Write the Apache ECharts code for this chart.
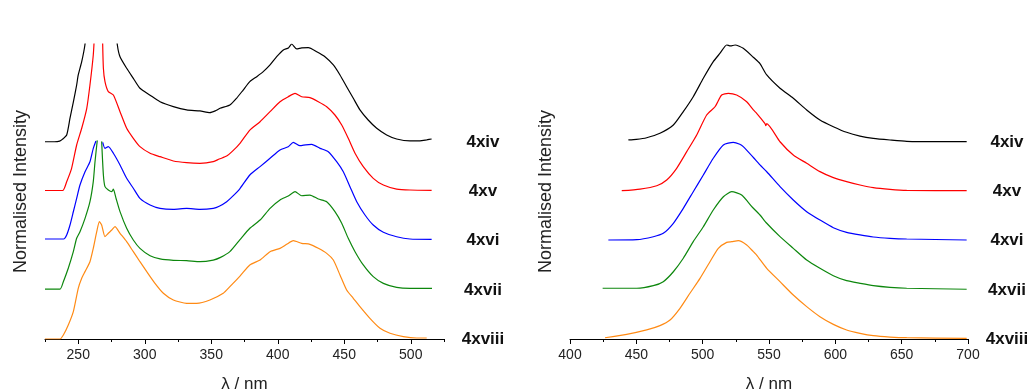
<!DOCTYPE html>
<html>
<head>
<meta charset="utf-8">
<title>Normalised excitation and emission spectra</title>
<script src="https://cdn.jsdelivr.net/npm/echarts@6/dist/echarts.min.js"></script>
<style>
  html, body { margin: 0; padding: 0; background: #ffffff; }
  #chart { width: 1031px; height: 390px; }
</style>
</head>
<body>
<div id="chart"></div>
<script>
// Compound labels, drawn from top to bottom
const compounds = ['4xiv', '4xv', '4xvi', '4xvii', '4xviii'];
// Vertical offset of each trace (normalised units)
const offsets = [2.0, 1.5, 1.0, 0.5, 0.0];
const colors = ['#000000', '#ff0000', '#0000ff', '#0d870d', '#ff8a14'];

// Axis tick labels
const exTicks = [250, 300, 350, 400, 450, 500];
const exMinorTicks = [225, 275, 325, 375, 425, 475, 525];
const emTicks = [400, 450, 500, 550, 600, 650, 700];
const emMinorTicks = [425, 475, 525, 575, 625, 675];

// Excitation spectra [wavelength nm, normalised intensity]; '-' marks removed scatter points
const exc4xiv = [[225,0.006],[232,0.006],[236,0.012],[238,0.03],[241.3,0.075],[243.8,0.245],[246.3,0.41],[248.8,0.583],[250,0.685],[252.6,0.82],[255,0.99],[256.5,1.2],[258,'-'],[278,1.2],[279.4,0.99],[281.4,0.87],[286.4,0.753],[291.4,0.651],[296.4,0.55],[304,0.48],[311.5,0.413],[321.5,0.363],[331.5,0.33],[341.5,0.319],[349,0.302],[353,0.32],[356.6,0.346],[364,0.38],[369,0.448],[374,0.532],[379,0.617],[384.2,0.668],[389.1,0.719],[394.2,0.787],[399.2,0.871],[404.2,0.939],[408,0.96],[410.5,1.0],[414.2,0.95],[418,0.96],[423,0.963],[429.3,0.922],[435.5,0.871],[441.8,0.787],[446.8,0.685],[451.8,0.566],[456.8,0.448],[461.8,0.33],[468,0.227],[474.4,0.143],[481.9,0.075],[489.4,0.034],[499.4,0.014],[506.9,0.014],[512,0.025],[515.7,0.034]];
const exc4xv = [[225,0.01],[238.3,0.01],[241.3,0.1],[245,0.236],[248.8,0.473],[252.6,0.643],[256.4,0.846],[258.8,1.083],[261.3,1.388],[262.2,1.6],[265,'-'],[268.2,1.6],[268.9,1.253],[270.1,1.117],[272.6,1.015],[276.4,0.981],[281.4,0.812],[286.4,0.643],[291.4,0.541],[296.4,0.456],[304,0.389],[311.5,0.354],[321.5,0.31],[331.5,0.293],[341.5,0.287],[351.5,0.303],[356,0.33],[361.6,0.36],[366,0.41],[371.6,0.49],[379,0.625],[386.7,0.71],[394.2,0.812],[401.7,0.913],[407.9,0.964],[413,0.998],[418,0.964],[424.2,0.954],[430.5,0.913],[436.8,0.862],[443,0.778],[448.1,0.676],[453,0.541],[458.1,0.389],[464.3,0.252],[471.8,0.134],[479.4,0.066],[489.4,0.025],[499.4,0.015],[515.7,0.012]];
const exc4xvi = [[225,0.017],[239,0.017],[241.3,0.058],[243.8,0.159],[246.3,0.294],[248.8,0.43],[251.3,0.566],[255.1,0.701],[258.8,0.803],[261.3,0.939],[263.3,1.014],[265.5,'-'],[268.4,1.0],[270.1,0.939],[272.6,0.956],[276.4,0.889],[281.4,0.77],[286.4,0.634],[291.4,0.533],[296.4,0.43],[304,0.363],[311.5,0.329],[321.5,0.319],[331.5,0.329],[341.5,0.319],[351.5,0.329],[356,0.35],[361.6,0.396],[366,0.45],[371.6,0.53],[379,0.668],[386.7,0.753],[394.2,0.838],[401.7,0.922],[407.9,0.956],[411.7,1.0],[416.7,0.966],[421,0.975],[425.5,0.98],[431.8,0.939],[438,0.905],[444.3,0.803],[449.3,0.701],[454.3,0.549],[459.4,0.396],[465.6,0.261],[471.8,0.159],[479.4,0.085],[489.4,0.04],[499.4,0.017],[515.7,0.014]];
const exc4xvii = [[225,0.008],[236.3,0.008],[238.8,0.083],[242.5,0.219],[246.3,0.388],[248.8,0.524],[251.3,0.591],[255.1,0.727],[258.8,0.896],[261.3,1.1],[262.6,1.303],[264.3,1.52],[266,'-'],[267.6,1.51],[268.9,1.168],[270.1,1.049],[272.6,1.015],[275.2,0.998],[276.4,1.025],[278.4,0.931],[281.4,0.795],[286.4,0.626],[291.4,0.507],[296.4,0.422],[304,0.347],[311.5,0.314],[321.5,0.3],[331.5,0.297],[341.5,0.286],[351.5,0.303],[357,0.33],[364,0.388],[371.6,0.51],[379,0.626],[386.7,0.71],[394.2,0.829],[401.7,0.914],[407.9,0.954],[413,0.998],[418,0.957],[424.2,0.964],[430.5,0.924],[436.8,0.896],[443,0.795],[448.1,0.677],[453,0.524],[458.1,0.388],[464.3,0.253],[471.8,0.134],[479.4,0.066],[489.4,0.025],[499.4,0.015],[516,0.015]];
const exc4xviii = [[225,0],[236.3,0],[238.8,0.04],[242.5,0.142],[246.3,0.278],[250,0.515],[252.6,0.617],[255.1,0.685],[258.8,0.786],[261.3,0.922],[263.9,1.091],[265.9,1.193],[267.6,1.159],[270.1,1.04],[272.6,1.075],[275.2,1.108],[277.6,1.142],[281.4,1.075],[286.4,0.99],[291.4,0.888],[296.4,0.786],[301.5,0.685],[307.7,0.566],[314,0.465],[321.5,0.397],[331.5,0.363],[339,0.363],[349,0.397],[359,0.465],[364,0.532],[371.6,0.64],[379,0.753],[386.7,0.803],[394.2,0.888],[401.7,0.922],[406.7,0.963],[411.7,1.0],[418,0.973],[424.2,0.963],[430.5,0.922],[436.8,0.871],[441.8,0.803],[446.8,0.651],[451.8,0.498],[456.8,0.414],[461.8,0.329],[469.3,0.21],[476.9,0.109],[484.4,0.058],[494.4,0.024],[504.4,0.01],[512,0.01]];

// Emission spectra [wavelength nm, normalised intensity]
const emi4xiv = [[444,0.024],[450,0.03],[457.8,0.047],[467.8,0.092],[477.9,0.176],[485.4,0.312],[492.9,0.464],[500.5,0.651],[508,0.82],[513.1,0.906],[518.1,0.99],[521,0.98],[524.4,0.99],[530.6,0.956],[538.2,0.865],[543.2,0.8],[548.3,0.685],[558.3,0.55],[568.3,0.448],[578.4,0.329],[588.4,0.227],[598.5,0.159],[608.5,0.102],[618.6,0.064],[628.6,0.041],[641.2,0.024],[653.8,0.01],[679,0.007],[699,0.007]];
const emi4xv = [[439,0.008],[452.8,0.025],[465.4,0.059],[472.9,0.117],[480.4,0.236],[488,0.405],[495.5,0.575],[503,0.778],[509.3,0.862],[514.3,0.981],[519.3,0.998],[525.6,0.981],[533.2,0.913],[538.2,0.829],[540.7,0.795],[547,0.69],[547.6,0.67],[548.3,0.69],[558.3,0.506],[568.3,0.371],[578.4,0.287],[588.4,0.202],[598.5,0.141],[608.5,0.1],[618.6,0.066],[628.6,0.039],[641.2,0.022],[653.8,0.012],[699,0.008]];
const emi4xvi = [[428.9,0.007],[450.3,0.01],[462.8,0.04],[470.3,0.075],[477.9,0.177],[485.4,0.329],[492.9,0.498],[500.5,0.668],[508,0.838],[515.6,0.973],[523.1,1.0],[528,0.98],[530.6,0.956],[538.2,0.846],[543.2,0.77],[548.3,0.701],[558.3,0.549],[568.3,0.414],[578.4,0.295],[588.4,0.21],[598.5,0.132],[608.5,0.085],[618.6,0.058],[628.6,0.037],[641.2,0.024],[653.8,0.017],[699,0.007]];
const emi4xvii = [[424.6,0.016],[450.3,0.016],[462.8,0.042],[470.3,0.083],[477.9,0.184],[485.4,0.321],[492.9,0.49],[500.5,0.642],[508,0.812],[515.6,0.947],[521.9,0.998],[529.4,0.964],[537.5,0.84],[543.2,0.761],[548.3,0.677],[558.3,0.541],[568.3,0.422],[578.4,0.303],[588.4,0.219],[598.5,0.144],[608.5,0.093],[618.6,0.066],[628.6,0.042],[641.2,0.025],[653.8,0.016],[699,0.006]];
const emi4xviii = [[426.4,0.013],[442.7,0.047],[457.8,0.092],[467.8,0.136],[475.4,0.193],[482.9,0.312],[490.4,0.465],[498,0.617],[505.5,0.786],[511.8,0.922],[518.1,0.983],[522,0.99],[526.9,1.0],[533.2,0.956],[538.2,0.888],[540.7,0.854],[548.3,0.719],[558.3,0.583],[568.3,0.447],[578.4,0.329],[588.4,0.227],[598.5,0.149],[608.5,0.092],[618.6,0.058],[628.6,0.034],[641.2,0.02],[653.8,0.013],[699,0.007]];

const excitation = [exc4xiv, exc4xv, exc4xvi, exc4xvii, exc4xviii];
const emission = [emi4xiv, emi4xv, emi4xvi, emi4xvii, emi4xviii];

const FONT = '"Liberation Sans", Arial, sans-serif';

// Shift a spectrum up by its stacking offset
function stacked(points, off) {
  return points.map(function (p) {
    return [p[0], p[1] === '-' ? '-' : p[1] + off];
  });
}

function mainXAxis(gridIndex, min, max, ticks) {
  return {
    type: 'value', gridIndex: gridIndex, position: 'bottom',
    min: min, max: max, interval: 25,
    axisLine: { show: true, onZero: false, lineStyle: { color: '#000', width: 1 } },
    axisTick: { show: true, inside: false, length: 5, customValues: ticks, lineStyle: { color: '#000', width: 1 } },
    axisLabel: { show: true, customValues: ticks, margin: 9, color: '#222', fontSize: 14, fontFamily: FONT },
    splitLine: { show: false },
    name: 'λ / nm', nameLocation: 'middle', nameGap: 37,
    nameTextStyle: { color: '#222', fontSize: 17, fontFamily: FONT }
  };
}

function minorXAxis(gridIndex, min, max, ticks) {
  return {
    type: 'value', gridIndex: gridIndex, position: 'bottom',
    min: min, max: max, interval: 25,
    axisLine: { show: false, onZero: false },
    axisTick: { show: true, inside: false, length: 3, customValues: ticks, lineStyle: { color: '#000', width: 1 } },
    axisLabel: { show: false },
    splitLine: { show: false }
  };
}

function yAxis(gridIndex) {
  return {
    type: 'value', gridIndex: gridIndex, min: 0, max: 3,
    axisLine: { show: false }, axisTick: { show: false },
    axisLabel: { show: false }, splitLine: { show: false },
    name: 'Normalised Intensity', nameLocation: 'middle', nameGap: 15,
    nameTextStyle: { color: '#222', fontSize: 18, fontFamily: FONT }
  };
}

const series = [];
compounds.forEach(function (name, i) {
  series.push({
    name: name + ' excitation', type: 'line', xAxisIndex: 0, yAxisIndex: 0,
    data: stacked(excitation[i], offsets[i]),
    showSymbol: false, clip: true, connectNulls: false, smooth: 0.2,
    lineStyle: { color: colors[i], width: 1.2 }, z: 10 - i
  });
  series.push({
    name: name + ' emission', type: 'line', xAxisIndex: 2, yAxisIndex: 1,
    data: stacked(emission[i], offsets[i]),
    showSymbol: false, clip: true, connectNulls: false, smooth: 0.2,
    lineStyle: { color: colors[i], width: 1.2 }, z: 10 - i
  });
});

const chart = echarts.init(document.getElementById('chart'), null, { renderer: 'canvas' });
chart.setOption({
  backgroundColor: '#ffffff',
  animation: false,
  grid: [
    { left: 45, top: 44, width: 399, height: 295, containLabel: false, outerBoundsMode: 'none' },
    { left: 570, top: 44, width: 398, height: 295, containLabel: false, outerBoundsMode: 'none' }
  ],
  xAxis: [
    mainXAxis(0, 225, 525, exTicks),
    minorXAxis(0, 225, 525, exMinorTicks),
    mainXAxis(1, 400, 700, emTicks),
    minorXAxis(1, 400, 700, emMinorTicks)
  ],
  yAxis: [yAxis(0), yAxis(1)],
  series: series
});

// Compound labels to the right of each trace, placed at its baseline
const labelX = [483, 1007];
const graphics = [];
[0, 1].forEach(function (panel) {
  compounds.forEach(function (name, i) {
    const y = chart.convertToPixel({ yAxisIndex: panel }, offsets[i]);
    graphics.push({
      type: 'text', x: labelX[panel], y: y,
      style: {
        text: name, fill: '#111', font: 'bold 17px ' + FONT,
        textAlign: 'center', textVerticalAlign: 'middle'
      }
    });
  });
});
chart.setOption({ graphic: graphics });
</script>
</body>
</html>
